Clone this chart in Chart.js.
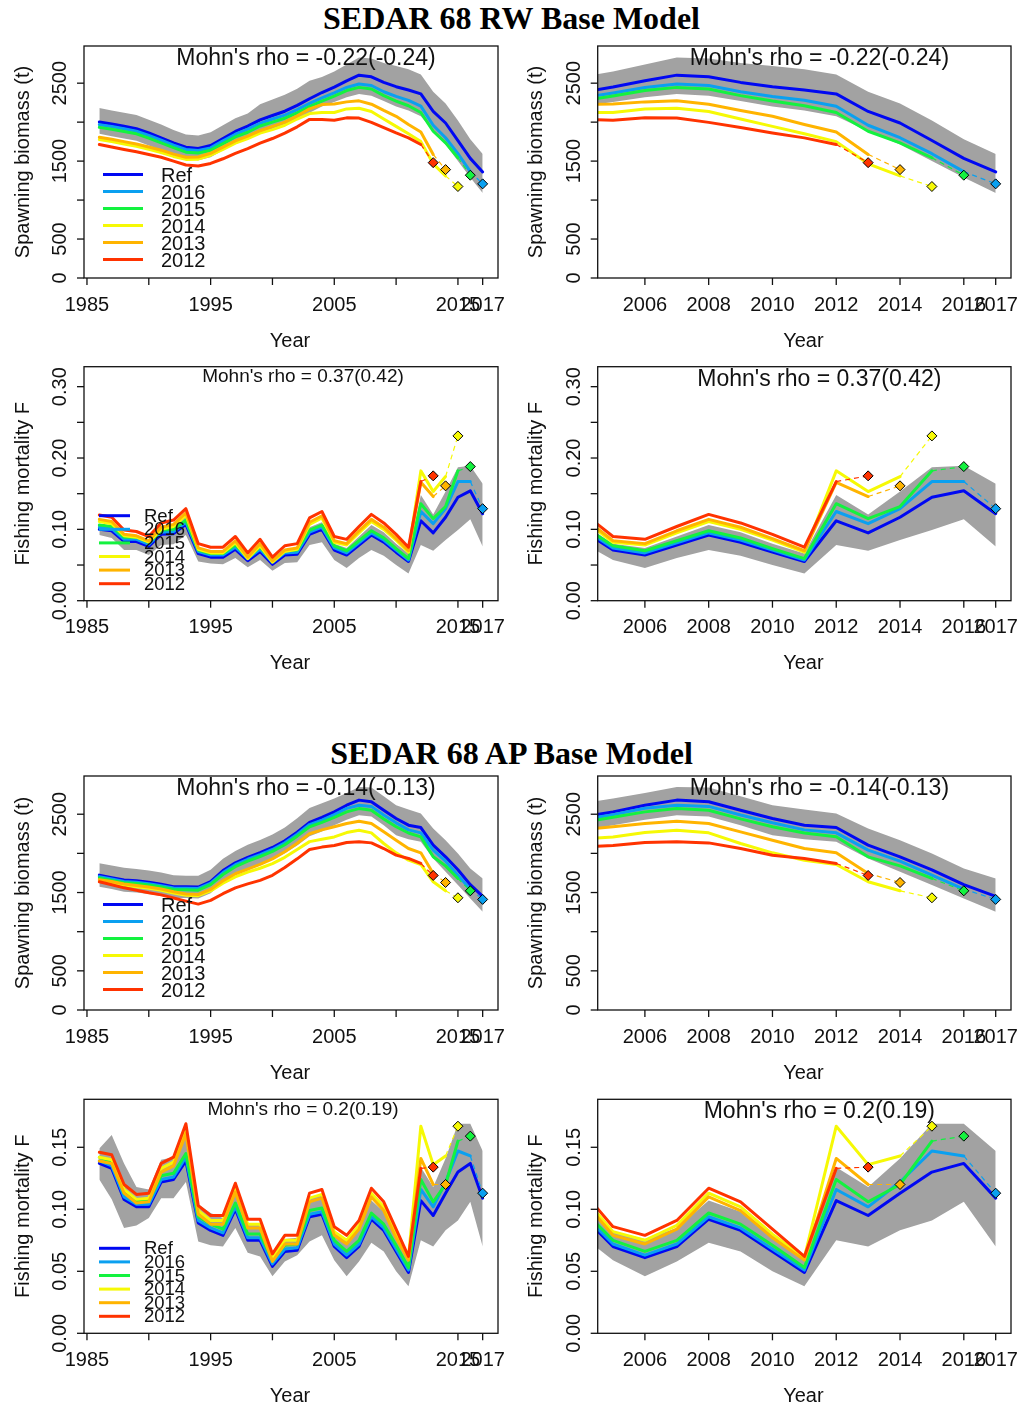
<!DOCTYPE html>
<html>
<head>
<meta charset="utf-8">
<script src="https://cdn.jsdelivr.net/npm/chart.js@4.4.1/dist/chart.umd.min.js"></script>
<style>
  body { margin: 0; background: #fff; }
  #page { position: relative; width: 1023px; height: 1407px; overflow: hidden; background: #fff; }
  .title { position: absolute; left: 0; width: 1023px; height: 36px; line-height: 36px; text-align: center;
           font: bold 32px "Liberation Serif", "Times New Roman", serif; color: #000; }
  canvas { position: absolute; }
</style>
</head>
<body>
<div id="page">
  <div class="title" style="top:0px">SEDAR 68 RW Base Model</div>
  <div class="title" style="top:735px">SEDAR 68 AP Base Model</div>
</div>
<script>
'use strict';

// years of the assessment + retro peels
const years = [1986, 1987, 1988, 1989, 1990, 1991, 1992, 1993, 1994, 1995,
  1996, 1997, 1998, 1999, 2000, 2001, 2002, 2003, 2004, 2005,
  2006, 2007, 2008, 2009, 2010, 2011, 2012, 2013, 2014, 2015, 2016, 2017];
const modelNames = ['Ref', '2016', '2015', '2014', '2013', '2012'];
const modelColors = ['#0008f2', '#0aa0f0', '#13f23f', '#f6f905', '#ffb400', '#ff3300'];
const bandColor = '#a2a2a2';

// axis ticks (R drops some labels when they crowd)
const fullTicks = [1985, 1990, 1995, 2000, 2005, 2010, 2015, 2017];
const fullTickLabels = ['1985', '', '1995', '', '2005', '', '2015', '2017'];
const zoomTicks = [2006, 2008, 2010, 2012, 2014, 2016, 2017];
const zoomTickLabels = ['2006', '2008', '2010', '2012', '2014', '2016', '2017'];
const ssbTicks = [0, 500, 1000, 1500, 2000, 2500];
const ssbTickLabels = ['0', '500', '', '1500', '', '2500'];
const rwFTicks = [0, 0.05, 0.10, 0.15, 0.20, 0.25, 0.30];
const rwFTickLabels = ['0.00', '', '0.10', '', '0.20', '', '0.30'];
const apFTicks = [0, 0.05, 0.10, 0.15];
const apFTickLabels = ['0.00', '0.05', '0.10', '0.15'];

const rhoRwSsb = "Mohn's rho = -0.22(-0.24)";
const rhoRwF = "Mohn's rho = 0.37(0.42)";
const rhoApSsb = "Mohn's rho = -0.14(-0.13)";
const rhoApF = "Mohn's rho = 0.2(0.19)";

// ---- RW spawning biomass ----
const rwSsbRef = [2001, 1976, 1946, 1916, 1861, 1798, 1734, 1679, 1662, 1700,
  1790, 1880, 1950, 2030, 2085, 2140, 2215, 2300, 2380, 2450,
  2530, 2603, 2582, 2510, 2455, 2413, 2362, 2137, 1989, 1764, 1535, 1361];
const rwSsb2016 = [1968, 1945, 1915, 1885, 1830, 1768, 1705, 1650, 1635, 1670,
  1760, 1845, 1910, 1985, 2040, 2090, 2160, 2240, 2310, 2375,
  2445, 2490, 2470, 2390, 2330, 2280, 2205, 1960, 1800, 1595, 1365];
const rwSsb2015 = [1933, 1910, 1880, 1850, 1795, 1735, 1672, 1615, 1605, 1640,
  1725, 1810, 1870, 1950, 2000, 2050, 2120, 2200, 2270, 2335,
  2405, 2446, 2425, 2340, 2270, 2210, 2124, 1883, 1734, 1543];
const rwSsb2014 = [1777, 1750, 1720, 1690, 1650, 1610, 1560, 1522, 1525, 1575,
  1650, 1730, 1790, 1860, 1904, 1960, 2040, 2110, 2125, 2124,
  2170, 2179, 2137, 2040, 1946, 1850, 1750, 1465, 1310];
const rwSsb2013 = [1806, 1780, 1750, 1720, 1680, 1640, 1590, 1550, 1552, 1600,
  1680, 1760, 1820, 1890, 1946, 2000, 2080, 2170, 2225, 2234,
  2260, 2273, 2230, 2150, 2075, 1970, 1874, 1586];
const rwSsb2012 = [1713, 1680, 1650, 1620, 1585, 1550, 1500, 1450, 1437, 1470,
  1530, 1600, 1660, 1730, 1790, 1860, 1940, 2035, 2035, 2025,
  2055, 2052, 1997, 1930, 1861, 1798, 1713];
const rwSsbNext = [null, 1208, 1319, 1174, 1391, 1480];
const rwSsbUpper = [2180, 2150, 2120, 2090, 2030, 1970, 1900, 1840, 1830, 1870,
  1960, 2050, 2110, 2230, 2290, 2350, 2430, 2530, 2580, 2650,
  2740, 2830, 2815, 2760, 2720, 2680, 2610, 2390, 2240, 2020, 1780, 1590];
const rwSsbLower = [1850, 1820, 1790, 1760, 1700, 1640, 1580, 1530, 1510, 1550,
  1640, 1720, 1790, 1860, 1910, 1960, 2030, 2120, 2200, 2260,
  2320, 2360, 2340, 2270, 2200, 2150, 2075, 1883, 1713, 1501, 1289, 1090];

// ---- RW fishing mortality ----
const rwFRef = [0.100, 0.098, 0.083, 0.083, 0.076, 0.093, 0.094, 0.107, 0.066, 0.061,
  0.061, 0.072, 0.056, 0.069, 0.051, 0.064, 0.065, 0.093, 0.100, 0.071,
  0.064, 0.078, 0.092, 0.082, 0.068, 0.055, 0.112, 0.095, 0.117, 0.145, 0.154, 0.122];
const rwF2016 = [0.103, 0.101, 0.086, 0.086, 0.079, 0.096, 0.097, 0.110, 0.069, 0.064,
  0.064, 0.075, 0.059, 0.072, 0.054, 0.067, 0.068, 0.096, 0.103, 0.074,
  0.067, 0.081, 0.095, 0.085, 0.071, 0.057, 0.125, 0.108, 0.129, 0.167, 0.167];
const rwF2015 = [0.106, 0.104, 0.089, 0.089, 0.082, 0.099, 0.100, 0.113, 0.071, 0.066,
  0.066, 0.078, 0.061, 0.075, 0.056, 0.070, 0.071, 0.099, 0.106, 0.077,
  0.070, 0.084, 0.098, 0.088, 0.073, 0.059, 0.136, 0.115, 0.132, 0.182];
const rwF2014 = [0.111, 0.108, 0.091, 0.089, 0.082, 0.100, 0.104, 0.120, 0.072, 0.067,
  0.067, 0.081, 0.059, 0.077, 0.054, 0.069, 0.072, 0.107, 0.116, 0.082,
  0.078, 0.095, 0.111, 0.100, 0.085, 0.068, 0.182, 0.153, 0.174];
const rwF2013 = [0.114, 0.111, 0.093, 0.091, 0.084, 0.103, 0.107, 0.123, 0.074, 0.069,
  0.069, 0.084, 0.061, 0.080, 0.056, 0.071, 0.074, 0.110, 0.119, 0.084,
  0.080, 0.098, 0.114, 0.103, 0.087, 0.070, 0.166, 0.146];
const rwF2012 = [0.120, 0.117, 0.099, 0.097, 0.090, 0.109, 0.113, 0.129, 0.080, 0.075,
  0.075, 0.090, 0.067, 0.086, 0.061, 0.077, 0.080, 0.116, 0.125, 0.090,
  0.086, 0.104, 0.121, 0.109, 0.093, 0.075, 0.167];
const rwFNext = [null, 0.129, 0.188, 0.231, 0.161, 0.175];
const rwFUpper = [0.108, 0.105, 0.090, 0.090, 0.083, 0.102, 0.103, 0.118, 0.072, 0.067,
  0.067, 0.080, 0.062, 0.076, 0.058, 0.071, 0.073, 0.103, 0.110, 0.080,
  0.074, 0.090, 0.106, 0.096, 0.080, 0.066, 0.148, 0.121, 0.153, 0.187, 0.189, 0.164];
const rwFLower = [0.092, 0.088, 0.071, 0.071, 0.064, 0.078, 0.079, 0.092, 0.055, 0.052,
  0.051, 0.060, 0.047, 0.057, 0.042, 0.053, 0.054, 0.078, 0.082, 0.057,
  0.046, 0.060, 0.071, 0.063, 0.050, 0.038, 0.078, 0.070, 0.085, 0.099, 0.114, 0.076];

// ---- AP spawning biomass ----
const apSsbRef = [1722, 1690, 1660, 1650, 1630, 1605, 1575, 1573, 1570, 1640,
  1780, 1880, 1950, 2010, 2075, 2160, 2270, 2395, 2460, 2530,
  2615, 2680, 2660, 2550, 2445, 2360, 2330, 2105, 1956, 1790, 1600, 1450];
const apSsb2016 = [1703, 1672, 1642, 1632, 1612, 1588, 1558, 1555, 1552, 1620,
  1755, 1855, 1925, 1985, 2050, 2135, 2245, 2368, 2425, 2495,
  2575, 2615, 2600, 2490, 2390, 2300, 2262, 2041, 1900, 1722, 1543];
const apSsb2015 = [1685, 1655, 1625, 1615, 1595, 1570, 1540, 1535, 1530, 1600,
  1730, 1830, 1900, 1960, 2025, 2110, 2220, 2340, 2395, 2460,
  2530, 2572, 2550, 2440, 2340, 2260, 2211, 1956, 1840, 1680];
const apSsb2014 = [1650, 1625, 1595, 1575, 1555, 1530, 1495, 1465, 1460, 1520,
  1620, 1700, 1760, 1810, 1870, 1950, 2050, 2150, 2180, 2210,
  2266, 2296, 2262, 2126, 2007, 1913, 1858, 1637, 1522];
const apSsb2013 = [1665, 1640, 1610, 1590, 1570, 1545, 1510, 1480, 1475, 1540,
  1650, 1740, 1800, 1860, 1930, 2020, 2130, 2250, 2300, 2340,
  2381, 2411, 2381, 2275, 2168, 2062, 2007, 1743];
const apSsb2012 = [1637, 1600, 1560, 1530, 1497, 1470, 1430, 1390, 1352, 1400,
  1485, 1560, 1610, 1655, 1720, 1820, 1930, 2050, 2080, 2100,
  2139, 2147, 2134, 2062, 1977, 1935, 1871];
const apSsbNext = [null, 1412, 1522, 1433, 1628, 1718];
const apSsbUpper = [1875, 1845, 1815, 1800, 1780, 1755, 1720, 1715, 1715, 1790,
  1930, 2030, 2110, 2170, 2240, 2330, 2450, 2580, 2640, 2700,
  2772, 2849, 2840, 2730, 2615, 2560, 2509, 2317, 2168, 1998, 1807, 1680];
const apSsbLower = [1575, 1545, 1510, 1500, 1480, 1455, 1430, 1430, 1425, 1490,
  1630, 1730, 1800, 1860, 1920, 2000, 2100, 2220, 2280, 2360,
  2430, 2487, 2470, 2360, 2232, 2180, 2147, 1935, 1765, 1595, 1424, 1254];

// ---- AP fishing mortality ----
const apFRef = [0.137, 0.133, 0.108, 0.102, 0.102, 0.122, 0.124, 0.139, 0.089, 0.083,
  0.079, 0.100, 0.075, 0.075, 0.054, 0.066, 0.067, 0.094, 0.096, 0.070,
  0.061, 0.070, 0.092, 0.083, 0.066, 0.049, 0.107, 0.095, 0.113, 0.130, 0.137, 0.109];
const apF2016 = [0.139, 0.135, 0.110, 0.104, 0.104, 0.124, 0.126, 0.142, 0.091, 0.085,
  0.081, 0.102, 0.077, 0.077, 0.056, 0.068, 0.069, 0.096, 0.098, 0.072,
  0.063, 0.072, 0.094, 0.085, 0.068, 0.051, 0.116, 0.102, 0.122, 0.147, 0.143];
const apF2015 = [0.142, 0.138, 0.113, 0.107, 0.107, 0.127, 0.129, 0.145, 0.094, 0.088,
  0.084, 0.105, 0.080, 0.080, 0.059, 0.071, 0.072, 0.099, 0.101, 0.075,
  0.066, 0.075, 0.097, 0.088, 0.071, 0.053, 0.124, 0.106, 0.120, 0.155];
const apF2014 = [0.142, 0.140, 0.116, 0.108, 0.109, 0.133, 0.138, 0.165, 0.099, 0.091,
  0.091, 0.117, 0.088, 0.088, 0.061, 0.075, 0.075, 0.109, 0.112, 0.082,
  0.075, 0.087, 0.113, 0.102, 0.080, 0.061, 0.167, 0.136, 0.143];
const apF2013 = [0.139, 0.137, 0.113, 0.105, 0.106, 0.130, 0.135, 0.161, 0.096, 0.088,
  0.088, 0.114, 0.085, 0.085, 0.058, 0.072, 0.072, 0.106, 0.109, 0.079,
  0.072, 0.084, 0.110, 0.099, 0.077, 0.059, 0.141, 0.120];
const apF2012 = [0.146, 0.144, 0.120, 0.112, 0.113, 0.137, 0.142, 0.169, 0.103, 0.095,
  0.095, 0.121, 0.092, 0.092, 0.064, 0.079, 0.079, 0.113, 0.116, 0.086,
  0.079, 0.091, 0.117, 0.106, 0.084, 0.062, 0.133];
const apFNext = [null, 0.113, 0.159, 0.167, 0.120, 0.134];
const apFUpper = [0.149, 0.160, 0.137, 0.118, 0.116, 0.140, 0.142, 0.163, 0.104, 0.097,
  0.093, 0.116, 0.088, 0.088, 0.063, 0.076, 0.077, 0.110, 0.112, 0.082,
  0.076, 0.085, 0.107, 0.098, 0.080, 0.061, 0.134, 0.118, 0.141, 0.169, 0.169, 0.147];
const apFLower = [0.124, 0.108, 0.085, 0.087, 0.093, 0.109, 0.109, 0.122, 0.074, 0.071,
  0.070, 0.085, 0.065, 0.062, 0.046, 0.058, 0.063, 0.074, 0.079, 0.059,
  0.046, 0.058, 0.073, 0.066, 0.050, 0.038, 0.075, 0.070, 0.083, 0.091, 0.106, 0.070];

// group the arrays per quantity
const rwSsb = { series: [rwSsbRef, rwSsb2016, rwSsb2015, rwSsb2014, rwSsb2013, rwSsb2012], next: rwSsbNext, upper: rwSsbUpper, lower: rwSsbLower };
const rwF = { series: [rwFRef, rwF2016, rwF2015, rwF2014, rwF2013, rwF2012], next: rwFNext, upper: rwFUpper, lower: rwFLower };
const apSsb = { series: [apSsbRef, apSsb2016, apSsb2015, apSsb2014, apSsb2013, apSsb2012], next: apSsbNext, upper: apSsbUpper, lower: apSsbLower };
const apF = { series: [apFRef, apF2016, apF2015, apF2014, apF2013, apF2012], next: apFNext, upper: apFUpper, lower: apFLower };

// legend placement (relative to plot box)
const bigLegend = { x0: 19, x1: 59, tx: 77, y0: 128.5, dy: 17, font: 20, tdy: 2 };
const smallLegend = { x0: 15, x1: 46, tx: 60, y0: 149, dy: 13.6, font: 18.5, tdy: 1 };

const fullX = { min: 1984.76, max: 2018.24, ticks: fullTicks, labels: fullTickLabels };
const zoomX = { min: 2004.52, max: 2017.48, ticks: zoomTicks, labels: zoomTickLabels };

// panel layout: canvas rect + plot box in page pixels
const panels = [
  { d: rwSsb, cx: 0, cy: 40, w: 512, h: 320, box: [84, 44, 498, 278], xs: fullX, yMax: 2977, yt: ssbTicks, yl: ssbTickLabels, yTitle: 'Spawning biomass (t)', rho: rhoRwSsb, rhoSize: 23, legend: bigLegend },
  { d: rwSsb, cx: 512, cy: 40, w: 511, h: 320, box: [597.7, 44, 1011, 278], xs: zoomX, yMax: 2977, yt: ssbTicks, yl: ssbTickLabels, yTitle: 'Spawning biomass (t)', rho: rhoRwSsb, rhoSize: 23, legend: null },
  { d: rwF, cx: 0, cy: 360, w: 512, h: 320, box: [84, 366.7, 498, 600.7], xs: fullX, yMax: 0.328, yt: rwFTicks, yl: rwFTickLabels, yTitle: 'Fishing mortality F', rho: rhoRwF, rhoSize: 19, legend: smallLegend },
  { d: rwF, cx: 512, cy: 360, w: 511, h: 320, box: [597.7, 366.7, 1011, 600.7], xs: zoomX, yMax: 0.328, yt: rwFTicks, yl: rwFTickLabels, yTitle: 'Fishing mortality F', rho: rhoRwF, rhoSize: 23, legend: null },
  { d: apSsb, cx: 0, cy: 770, w: 512, h: 320, box: [84, 775.7, 498, 1010], xs: fullX, yMax: 2988, yt: ssbTicks, yl: ssbTickLabels, yTitle: 'Spawning biomass (t)', rho: rhoApSsb, rhoSize: 23, legend: bigLegend },
  { d: apSsb, cx: 512, cy: 770, w: 511, h: 320, box: [597.7, 775.7, 1011, 1010], xs: zoomX, yMax: 2988, yt: ssbTicks, yl: ssbTickLabels, yTitle: 'Spawning biomass (t)', rho: rhoApSsb, rhoSize: 23, legend: null },
  { d: apF, cx: 0, cy: 1090, w: 512, h: 317, box: [84, 1099.3, 498, 1333.3], xs: fullX, yMax: 0.1887, yt: apFTicks, yl: apFTickLabels, yTitle: 'Fishing mortality F', rho: rhoApF, rhoSize: 19, legend: smallLegend },
  { d: apF, cx: 512, cy: 1090, w: 511, h: 317, box: [597.7, 1099.3, 1011, 1333.3], xs: zoomX, yMax: 0.1887, yt: apFTicks, yl: apFTickLabels, yTitle: 'Fishing mortality F', rho: rhoApF, rhoSize: 23, legend: null }
];

const FONT = '"Liberation Sans", Arial, sans-serif';
const INK = '#111';

function toPoints(vals) {
  let pts = [];
  for (let i = 0; i < vals.length; i++) {
    pts.push({ x: years[i], y: vals[i] });
  }
  return pts;
}

function buildDatasets(d) {
  let ds = [];
  // confidence band of the reference run
  ds.push({ data: toPoints(d.lower), borderWidth: 0, pointRadius: 0, fill: false, order: 100, clip: 0 });
  ds.push({ data: toPoints(d.upper), borderWidth: 0, pointRadius: 0, fill: '-1', backgroundColor: bandColor, order: 99, clip: 0 });
  for (let i = 0; i < modelNames.length; i++) {
    let vals = d.series[i];
    ds.push({
      data: toPoints(vals), borderColor: modelColors[i], borderWidth: 3, pointRadius: 0,
      fill: false, tension: 0, borderJoinStyle: 'round', borderCapStyle: 'round',
      order: 40 - i * 2, clip: 0
    });
    if (d.next[i] !== null) {
      // dashed step to next-year value + diamond
      let last = vals.length - 1;
      ds.push({
        data: [{ x: years[last], y: vals[last] }, { x: years[last] + 1, y: d.next[i] }],
        borderColor: modelColors[i], borderWidth: 1.2, borderDash: [5, 4], fill: false,
        pointRadius: [0, 5], pointStyle: 'rectRot', pointBackgroundColor: modelColors[i],
        pointBorderColor: '#000', pointBorderWidth: 1, order: 10 - i
      });
    }
  }
  return ds;
}

function makeDecor(p) {
  return {
    id: 'rdecor',
    afterDraw(chart) {
      const ctx = chart.ctx;
      const a = chart.chartArea;
      const xs = chart.scales.x;
      const ys = chart.scales.y;
      ctx.save();
      ctx.strokeStyle = INK;
      ctx.fillStyle = INK;
      ctx.lineWidth = 1.3;
      ctx.strokeRect(a.left, a.top, a.right - a.left, a.bottom - a.top);
      ctx.font = '20px ' + FONT;
      ctx.textAlign = 'center';
      ctx.textBaseline = 'middle';

      // x axis
      for (let i = 0; i < p.xs.ticks.length; i++) {
        let px = xs.getPixelForValue(p.xs.ticks[i]);
        ctx.beginPath();
        ctx.moveTo(px, a.bottom);
        ctx.lineTo(px, a.bottom + 7);
        ctx.stroke();
        if (p.xs.labels[i]) ctx.fillText(p.xs.labels[i], px, a.bottom + 27);
      }
      // y axis, labels parallel to axis
      for (let i = 0; i < p.yt.length; i++) {
        let py = ys.getPixelForValue(p.yt[i]);
        ctx.beginPath();
        ctx.moveTo(a.left - 7, py);
        ctx.lineTo(a.left, py);
        ctx.stroke();
        if (p.yl[i]) {
          ctx.save();
          ctx.translate(a.left - 23.5, py);
          ctx.rotate(-Math.PI / 2);
          ctx.fillText(p.yl[i], 0, 0);
          ctx.restore();
        }
      }
      // axis titles
      ctx.fillText('Year', (a.left + a.right) / 2 - 1, a.bottom + 63);
      ctx.save();
      ctx.translate(a.left - 61, (a.top + a.bottom) / 2);
      ctx.rotate(-Math.PI / 2);
      ctx.fillText(p.yTitle, 0, 0);
      ctx.restore();

      // mohn's rho
      let big = p.rhoSize > 20;
      ctx.font = p.rhoSize + 'px ' + FONT;
      ctx.fillText(p.rho, (a.left + a.right) / 2 + (big ? 15 : 12), a.top + (big ? 12.5 : 10));

      // legend
      if (p.legend) {
        let lg = p.legend;
        ctx.font = lg.font + 'px ' + FONT;
        ctx.textAlign = 'left';
        ctx.lineWidth = 3;
        for (let i = 0; i < modelNames.length; i++) {
          let yy = a.top + lg.y0 + i * lg.dy;
          ctx.strokeStyle = modelColors[i];
          ctx.beginPath();
          ctx.moveTo(a.left + lg.x0, yy);
          ctx.lineTo(a.left + lg.x1, yy);
          ctx.stroke();
          ctx.fillStyle = INK;
          ctx.fillText(modelNames[i], a.left + lg.tx, yy + lg.tdy);
        }
      }
      ctx.restore();
    }
  };
}

let page = document.getElementById('page');

for (let k = 0; k < panels.length; k++) {
  let p = panels[k];
  let cv = document.createElement('canvas');
  cv.width = p.w;
  cv.height = p.h;
  cv.style.left = p.cx + 'px';
  cv.style.top = p.cy + 'px';
  cv.style.width = p.w + 'px';
  cv.style.height = p.h + 'px';
  page.appendChild(cv);

  new Chart(cv, { //eslint-disable-line
    type: 'line',
    data: { datasets: buildDatasets(p.d) },
    options: {
      responsive: false,
      animation: false,
      events: [],
      layout: {
        padding: {
          left: p.box[0] - p.cx,
          top: p.box[1] - p.cy,
          right: p.cx + p.w - p.box[2],
          bottom: p.cy + p.h - p.box[3]
        }
      },
      scales: {
        x: { type: 'linear', display: false, min: p.xs.min, max: p.xs.max },
        y: { type: 'linear', display: false, min: 0, max: p.yMax }
      },
      plugins: { legend: { display: false }, tooltip: { enabled: false } }
    },
    plugins: [makeDecor(p)]
  });
}
</script>
</body>
</html>
